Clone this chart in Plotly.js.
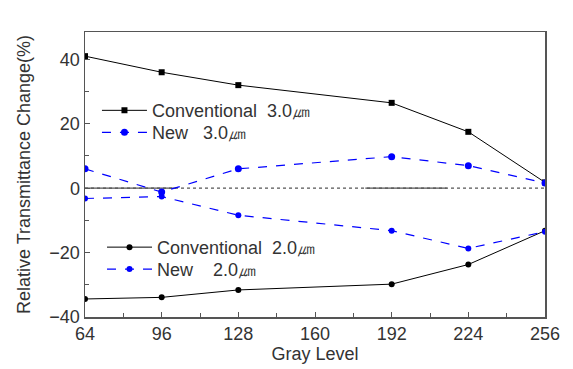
<!DOCTYPE html>
<html>
<head>
<meta charset="utf-8">
<script src="https://cdn.plot.ly/plotly-3.0.1.min.js"></script>
<style>html,body{margin:0;padding:0;background:#fff;}#chart{width:573px;height:369px;}</style>
</head>
<body>
<div id="chart"></div>
<script>
const grayLevels = [64, 96, 128, 192, 224, 256];
const conv30 = [41, 36, 32, 26.5, 17.5, 1.8];
const new30 = [6, -1.2, 6, 9.8, 7, 1.6];
const conv20 = [-34.4, -33.9, -31.6, -29.8, -23.7, -13.2];
const new20 = [-3.2, -2.6, -8.4, -13.2, -18.7, -13.5];
const seriesNames = ["Conventional\u00a0\u00a03.0\u339b", "New\u00a0\u00a0\u00a03.0\u339b", "Conventional\u00a0\u00a02.0\u339b", "New\u00a0\u00a0\u00a0\u00a02.0\u339b"];
const xTicks = [64, 96, 128, 160, 192, 224, 256];
const yTicks = [-40, -20, 0, 20, 40];

const font = "Liberation Sans, Arial, sans-serif";
const traces = [
  {x: grayLevels, y: conv30, name: seriesNames[0], mode: "lines+markers", legend: "legend",
   line: {color: "#000", width: 1}, marker: {symbol: "square", size: 6, color: "#000"}},
  {x: grayLevels, y: new30, name: seriesNames[1], mode: "lines+markers", legend: "legend2",
   line: {color: "#0000ff", width: 1.2, dash: "dash"}, marker: {symbol: "circle", size: 7, color: "#0000ff"}},
  {x: grayLevels, y: conv20, name: seriesNames[2], mode: "lines+markers", legend: "legend3",
   line: {color: "#000", width: 1}, marker: {symbol: "circle", size: 6, color: "#000"}},
  {x: grayLevels, y: new20, name: seriesNames[3], mode: "lines+markers", legend: "legend4",
   line: {color: "#0000ff", width: 1.2, dash: "dash"}, marker: {symbol: "circle", size: 6, color: "#0000ff"}}
];

const legendStyle = {bgcolor: "rgba(0,0,0,0)", borderwidth: 0, font: {family: font, size: 18, color: "#333"},
  itemwidth: 45, tracegroupgap: 0, xanchor: "left", yanchor: "top"};

const layout = {
  width: 573, height: 369,
  margin: {l: 85, r: 28, t: 32, b: 52},
  paper_bgcolor: "#fff", plot_bgcolor: "#fff",
  font: {family: font, color: "#333", size: 18},
  showlegend: true,
  legend: Object.assign({x: 0.026, y: 0.789}, legendStyle),
  legend2: Object.assign({x: 0.026, y: 0.712}, legendStyle),
  legend3: Object.assign({x: 0.037, y: 0.309}, legendStyle),
  legend4: Object.assign({x: 0.037, y: 0.232}, legendStyle),
  xaxis: {range: [64, 256], tickvals: xTicks, ticks: "inside", ticklen: 5, tickcolor: "#555",
    minor: {dtick: 16, ticks: "inside", ticklen: 4, tickcolor: "#555"},
    showgrid: false, zeroline: false, showline: true, linecolor: "#555", linewidth: 1.5, mirror: true,
    tickfont: {size: 18, color: "#333"}, ticklabelstandoff: 0, automargin: false,
    title: {text: "Gray Level", font: {size: 18, color: "#333"}, standoff: 4}},
  yaxis: {range: [-40, 48.5], tickvals: yTicks, ticks: "inside", ticklen: 5, tickcolor: "#555",
    minor: {tickvals: [-30, -10, 10, 30], ticks: "inside", ticklen: 4, tickcolor: "#555"},
    showgrid: false, zeroline: false, showline: true, linecolor: "#555", linewidth: 1.5, mirror: true,
    tickfont: {size: 18, color: "#333"}, automargin: false,
    title: {text: "Relative Transmittance Change(%)", font: {size: 18, color: "#333"}, standoff: 14}},
  shapes: [
    {type: "line", xref: "x", yref: "y", x0: 64, x1: 256, y0: 0, y1: 0, line: {color: "#555", width: 1.2, dash: "dot"}, layer: "below"},
    {type: "line", xref: "x", yref: "y", x0: 64, x1: 102, y0: 0, y1: 0, line: {color: "#555", width: 1.2}, layer: "below"},
    {type: "line", xref: "x", yref: "y", x0: 181, x1: 215, y0: 0, y1: 0, line: {color: "#555", width: 1.2}, layer: "below"}
  ]
};

Plotly.newPlot("chart", traces, layout, {displayModeBar: false, staticPlot: true});
</script>
</body>
</html>
